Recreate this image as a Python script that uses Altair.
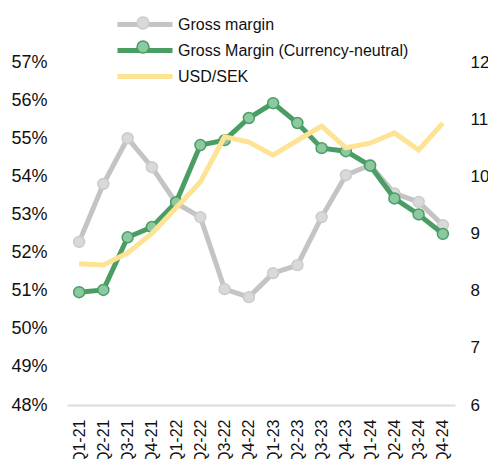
import altair as alt
import pandas as pd

quarters = ["Q1-21", "Q2-21", "Q3-21", "Q4-21", "Q1-22", "Q2-22", "Q3-22", "Q4-22",
            "Q1-23", "Q2-23", "Q3-23", "Q4-23", "Q1-24", "Q2-24", "Q3-24", "Q4-24"]
gross_margin = [52.28, 53.8, 55.0, 54.24, 53.3, 52.93, 51.04, 50.83,
                51.46, 51.67, 52.93, 54.03, 54.3, 53.55, 53.33, 52.72]
gross_margin_cn = [50.96, 51.02, 52.4, 52.67, 53.32, 54.82, 54.95, 55.53,
                   55.92, 55.4, 54.74, 54.66, 54.28, 53.42, 53.0, 52.49]
usd_sek = [8.47, 8.45, 8.66, 9.0, 9.45, 9.9, 10.69, 10.6,
           10.37, 10.63, 10.88, 10.5, 10.58, 10.76, 10.46, 10.93]

series_names = ["Gross margin", "Gross Margin (Currency-neutral)", "USD/SEK"]
line_colors = ["#c4c4c4", "#4a9e64", "#fee394"]
marker_fill = ["#d9d9d9", "#8cc9a0"]
marker_stroke = ["#cbcbcb", "#4a9e64"]

gm = pd.DataFrame({
    "quarter": quarters * 2,
    "value": gross_margin + gross_margin_cn,
    "series": [series_names[0]] * 16 + [series_names[1]] * 16,
})
fx = pd.DataFrame({"quarter": quarters, "value": usd_sek, "series": series_names[2]})

FONT = "Liberation Sans"

x = alt.X("quarter:N", sort=quarters, title=None,
          scale=alt.Scale(type="point", padding=0.5),
          axis=alt.Axis(labelAngle=-90, labelFontSize=16, labelColor="#111",
                        labelPadding=14, ticks=False, domainColor="#dcdcdc",
                        domainWidth=2, labelFont=FONT))

y_left = alt.Y("value:Q", title=None,
               scale=alt.Scale(domain=[48, 57], nice=False, zero=False),
               axis=alt.Axis(orient="left", values=list(range(48, 58)),
                             labelExpr="datum.value + '%'", grid=False, ticks=False,
                             domain=False, labelFontSize=18, labelColor="#111",
                             labelPadding=20, labelFont=FONT))

color = alt.Color("series:N", title=None,
                  scale=alt.Scale(domain=series_names, range=line_colors),
                  legend=alt.Legend(orient="none", legendX=48, legendY=-50,
                                    symbolType="M-1,0L4.5,0", symbolSize=400,
                                    symbolStrokeWidth=5, labelOffset=38,
                                    labelFontSize=16, labelColor="#111",
                                    labelFont=FONT, labelLimit=400,
                                    rowPadding=3, padding=0))

fill = alt.Fill("series:N", title=None,
                scale=alt.Scale(domain=series_names[:2], range=marker_fill),
                legend=alt.Legend(orient="none", legendX=48, legendY=-50,
                                  symbolType="M2.3,0A0.6,0.6 0 1 1 1.1,0A0.6,0.6 0 1 1 2.3,0Z",
                                  symbolSize=400, symbolStrokeWidth=1.5,
                                  labelOffset=38, labelFontSize=16,
                                  labelOpacity=0, labelFont=FONT, labelLimit=400,
                                  rowPadding=3, padding=0))
stroke = alt.Stroke("series:N", title=None,
                    scale=alt.Scale(domain=series_names[:2], range=marker_stroke),
                    legend=None)

layers = []
for name in series_names[:2]:
    d = gm[gm["series"] == name]
    layers.append(alt.Chart(d).mark_line(strokeWidth=5).encode(x=x, y=y_left, color=color))
    layers.append(alt.Chart(d).mark_point(filled=True, size=120, strokeWidth=1.5, opacity=1)
                  .encode(x=x, y=y_left, fill=fill, stroke=stroke))

gm_layer = alt.layer(*layers)

fx_line = alt.Chart(fx).mark_line(strokeWidth=5).encode(
    x=x,
    y=alt.Y("value:Q", title=None,
            scale=alt.Scale(domain=[6, 12], nice=False, zero=False),
            axis=alt.Axis(orient="right", values=list(range(6, 13)), grid=False,
                          ticks=False, domain=False, labelFontSize=17,
                          labelColor="#111", labelPadding=15, labelFont=FONT)),
    color=color,
)

chart = alt.layer(gm_layer, fx_line).resolve_scale(y="independent").properties(
    width=388, height=343,
    autosize=alt.AutoSizeParams(type="none"),
    padding={"left": 59, "top": 54, "right": 33, "bottom": 54},
).configure(font=FONT).configure_view(strokeWidth=0, stroke="transparent")

chart.save("out.html", embed_options={"renderer": "svg", "actions": False})
